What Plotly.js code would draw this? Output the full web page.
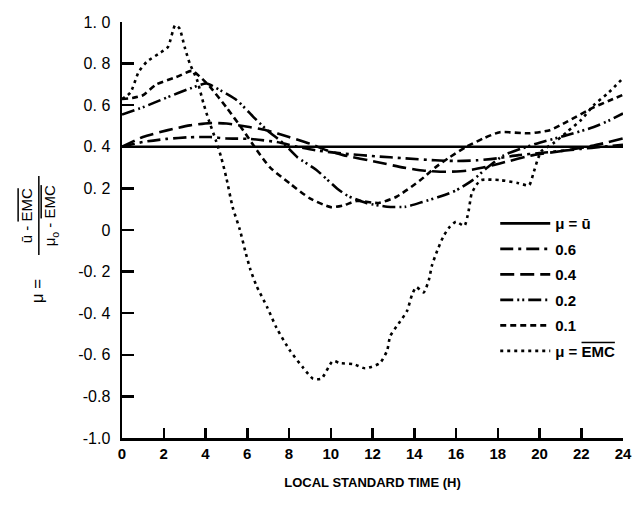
<!DOCTYPE html>
<html>
<head>
<meta charset="utf-8">
<script src="https://cdn.plot.ly/plotly-3.0.1.min.js"></script>
<style>html,body{margin:0;padding:0;background:#fff;}</style>
</head>
<body>
<div id="chart" style="width:640px;height:505px;"></div>
<script>
// Hour ticks and y tick labels
const hourTicks = [0, 2, 4, 6, 8, 10, 12, 14, 16, 18, 20, 22, 24];
const yTickValues = [1.0, 0.8, 0.6, 0.4, 0.2, 0, -0.2, -0.4, -0.6, -0.8, -1.0];
const yTickLabels = ['1. 0', '0. 8', '0. 6', '0. 4', '0. 2', '0', '-0. 2', '-0. 4', '-0. 6', '-0.8', '-1.0'];

// mu = u-bar (constant)
const meanHours = [0, 24];
const meanValues = [0.40, 0.40];

// mu = 0.6
const mu06Hours = [0, 1.0, 2.15, 3.25, 4.2, 5.0, 6.1, 7.4, 8.4, 9.3, 10.6, 12.2, 13.5, 15.0, 16.0, 17.0, 18.0, 19.0, 20.0, 21.0, 22.0, 23.0, 24.0];
const mu06Values = [0.40, 0.423, 0.438, 0.446, 0.447, 0.44, 0.438, 0.423, 0.40, 0.383, 0.367, 0.354, 0.345, 0.335, 0.332, 0.335, 0.345, 0.36, 0.37, 0.38, 0.39, 0.40, 0.41];

// mu = 0.4
const mu04Hours = [0, 1.0, 2.15, 3.25, 4.2, 5.0, 6.1, 6.9, 8.0, 9.0, 9.8, 10.6, 12.2, 13.5, 14.5, 15.5, 16.5, 17.3, 18.1, 19.7, 21.3, 22.6, 24];
const mu04Values = [0.40, 0.447, 0.479, 0.503, 0.514, 0.512, 0.495, 0.48, 0.447, 0.415, 0.383, 0.36, 0.327, 0.30, 0.285, 0.28, 0.285, 0.30, 0.32, 0.36, 0.383, 0.406, 0.44];

// mu = 0.2
const mu02Hours = [0, 1.0, 2.15, 3.25, 4.05, 4.7, 5.5, 6.3, 6.95, 7.75, 8.4, 9.3, 9.8, 10.3, 10.8, 11.7, 12.7, 13.6, 14.4, 15.2, 16.0, 16.8, 17.5, 18.3, 19.1, 20.0, 21.3, 22.6, 23.3, 24];
const mu02Values = [0.555, 0.59, 0.637, 0.68, 0.704, 0.672, 0.624, 0.543, 0.48, 0.415, 0.35, 0.29, 0.245, 0.20, 0.165, 0.13, 0.112, 0.112, 0.135, 0.16, 0.19, 0.24, 0.30, 0.36, 0.39, 0.42, 0.455, 0.495, 0.525, 0.56];

// mu = 0.1
const mu01Hours = [0, 0.5, 1.0, 1.65, 2.6, 3.35, 3.7, 4.2, 5.0, 5.8, 6.45, 7.1, 8.05, 9.0, 10.0, 10.6, 11.25, 12.3, 13.15, 14.3, 15.0, 15.7, 16.5, 17.3, 18.1, 19.5, 20.5, 21.3, 22.6, 23.3, 24];
const mu01Values = [0.63, 0.635, 0.648, 0.70, 0.735, 0.765, 0.74, 0.69, 0.59, 0.48, 0.385, 0.30, 0.223, 0.152, 0.11, 0.118, 0.14, 0.13, 0.16, 0.24, 0.30, 0.35, 0.40, 0.44, 0.47, 0.465, 0.48, 0.52, 0.59, 0.62, 0.65];

// mu = EMC-bar
const emcHours = [0, 0.4, 0.8, 1.2, 1.8, 2.2, 2.55, 2.75, 3.0, 3.25, 3.6, 3.9, 4.15, 4.5, 4.75, 5.0, 5.3, 5.65, 5.9, 6.15, 6.45, 6.95, 7.4, 8.05, 8.7, 9.15, 9.55, 10.1, 10.45, 11.1, 11.65, 12.35, 12.7, 12.85, 13.25, 13.65, 13.9, 14.1, 14.45, 14.7, 14.85, 15.1, 15.4, 15.7, 16.0, 16.4, 16.6, 16.75, 17.0, 17.2, 18.1, 19.0, 19.5, 19.7, 19.9, 20.1, 20.7, 21.3, 22.0, 22.6, 23.3, 24];
const emcValues = [0.63, 0.66, 0.76, 0.81, 0.85, 0.88, 0.985, 0.97, 0.88, 0.80, 0.72, 0.61, 0.53, 0.43, 0.35, 0.25, 0.11, 0.0, -0.10, -0.19, -0.27, -0.37, -0.47, -0.58, -0.665, -0.715, -0.715, -0.63, -0.64, -0.645, -0.665, -0.64, -0.58, -0.51, -0.45, -0.39, -0.31, -0.275, -0.30, -0.24, -0.17, -0.10, -0.03, 0.015, 0.04, 0.02, 0.09, 0.175, 0.22, 0.24, 0.24, 0.225, 0.215, 0.27, 0.335, 0.38, 0.42, 0.47, 0.53, 0.60, 0.66, 0.73];

const OVER = s => '<span style="text-decoration:overline">' + s + '</span>';
const sans = 'Liberation Sans, Arial, sans-serif';

function series(name, xs, ys, dash, group) {
  return {
    x: xs, y: ys, name: name, type: 'scatter', mode: 'lines',
    legendgroup: group,
    line: {color: '#000', width: 2.6, dash: dash, shape: 'spline', smoothing: 0.6},
    hoverinfo: 'skip'
  };
}

const traces = [
  series('μ = ū', meanHours, meanValues, 'solid', 'a'),
  series('0.6', mu06Hours, mu06Values, '13px,5px,3px,5px', 'b'),
  series('0.4', mu04Hours, mu04Values, '14px,6px', 'c'),
  series('0.2', mu02Hours, mu02Values, '13px,4px,2px,3px,2px,4px', 'd'),
  series('0.1', mu01Hours, mu01Values, '6px,4px', 'e'),
  series('μ = ' + OVER('EMC'), emcHours, emcValues, '3px,4px', 'f')
];

// rotated y-axis label pieces (fraction drawn as two rotated lines with a bar)
function label(x, y, text, size) {
  return {xref: 'paper', yref: 'paper', x: x, y: y, xanchor: 'center', yanchor: 'middle',
          text: text, textangle: -90, showarrow: false, font: {family: sans, size: size}};
}

const layout = {
  width: 640, height: 505,
  margin: {l: 122, r: 17, t: 22, b: 67},
  paper_bgcolor: '#fff', plot_bgcolor: '#fff',
  font: {family: sans, color: '#000'},
  showlegend: true,
  legend: {
    x: 0.745, xanchor: 'left', y: 0.555, yanchor: 'top',
    font: {size: 15, weight: 'bold', family: sans},
    itemwidth: 50,
    tracegroupgap: 3, bgcolor: 'rgba(0,0,0,0)'
  },
  xaxis: {
    range: [0, 24], tickvals: hourTicks, ticktext: hourTicks.map(String),
    ticks: 'inside', ticklen: 10, tickwidth: 2.5, tickcolor: '#000',
    showline: true, linewidth: 2.5, linecolor: '#000',
    showgrid: false, zeroline: false,
    tickfont: {family: sans, size: 15, weight: 'bold'},
    title: {text: 'LOCAL STANDARD TIME (H)', font: {family: sans, size: 13, weight: 'bold'}, standoff: 18}
  },
  yaxis: {
    range: [-1, 1], tickvals: yTickValues, ticktext: yTickLabels,
    ticks: 'inside', ticklen: 12, tickwidth: 2.5, tickcolor: '#000',
    showline: true, linewidth: 2.5, linecolor: '#000',
    showgrid: false, zeroline: false,
    tickfont: {family: sans, size: 16},
    ticklabelstandoff: 6
  },
  annotations: [
    label(-0.17, 0.355, 'μ =', 17),
    label(-0.19, 0.535, 'ū - ' + OVER('EMC'), 15),
    label(-0.142, 0.535, 'μ<sub>o</sub> - ' + OVER('EMC'), 15)
  ],
  shapes: [
    {type: 'line', xref: 'paper', yref: 'paper', x0: -0.166, x1: -0.166, y0: 0.44, y1: 0.63,
     line: {color: '#000', width: 1.5}}
  ]
};

Plotly.newPlot('chart', traces, layout, {displayModeBar: false, staticPlot: true});
</script>
</body>
</html>
